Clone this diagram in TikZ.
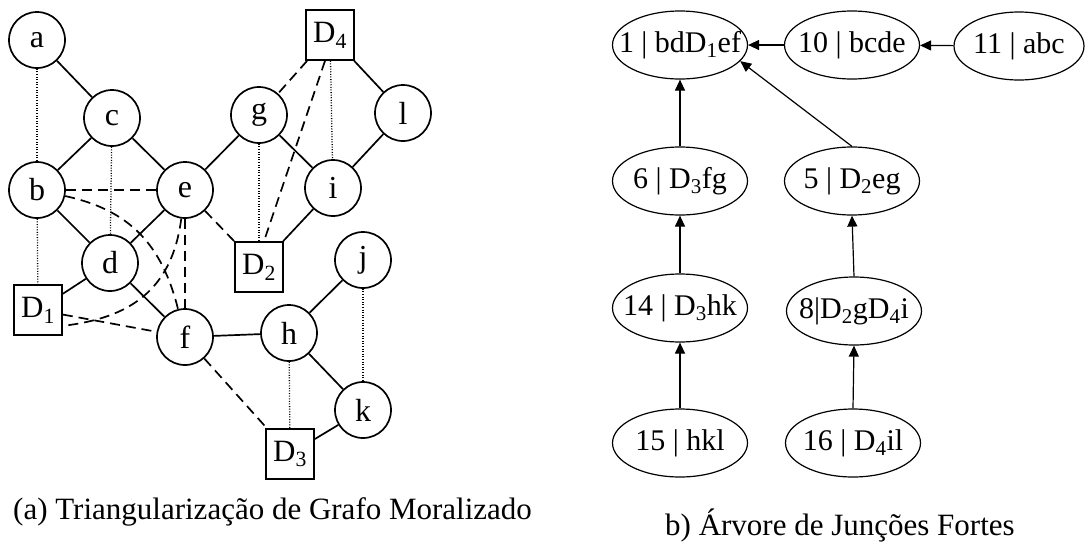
\documentclass[tikz,border=0pt]{standalone}
\usepackage{fontspec}
\setmainfont{Liberation Serif}
\usetikzlibrary{shapes.geometric,arrows.meta}
\newcommand\sbs[1]{\textsubscript{#1}}
\begin{document}
\begin{tikzpicture}[x=1pt,y=-1pt,
 vtx/.style={circle,draw,line width=1.7pt,minimum size=56pt,inner sep=0pt,font=\fontsize{32}{34}\selectfont},
 dec/.style={rectangle,draw,line width=1.7pt,minimum width=48pt,minimum height=50pt,inner sep=0pt,font=\fontsize{31}{34}\selectfont},
 sol/.style={line width=1.7pt},
 dsh/.style={line width=1.7pt,dash pattern=on 10pt off 6pt},
 dtd/.style={line width=1.3pt,dash pattern=on 1pt off 1.6pt},
 clq/.style={ellipse,draw,line width=1.2pt,minimum width=135pt,minimum height=68pt,inner sep=0pt,font=\fontsize{30}{32}\selectfont},
 arr/.style={line width=1.2pt,-{Triangle[length=11pt,width=10pt]}},
 captxt/.style={font=\fontsize{31}{34}\selectfont,inner sep=0pt},
]
\useasboundingbox (0,0) rectangle (1085,542);
% left graph nodes
\node[vtx] (a) at (37,40) {a};
\node[vtx] (c) at (112,118) {c};
\node[vtx] (b) at (37,190) {b};
\node[vtx] (e) at (185,190) {e};
\node[vtx] (g) at (259,115) {g};
\node[dec] (D4) at (330,35) {D\sbs{4}};
\node[vtx] (i) at (333,188) {i};
\node[vtx] (l) at (403,113) {l};
\node[dec] (D2) at (259,267) {D\sbs{2}};
\node[vtx] (j) at (363,260) {j};
\node[vtx] (h) at (289,333) {h};
\node[vtx] (k) at (363,410) {k};
\node[dec] (D3) at (290,454) {D\sbs{3}};
\node[vtx] (d) at (110,263) {d};
\node[dec] (D1) at (38,310) {D\sbs{1}};
\node[vtx] (f) at (185,337) {f};
% solid edges
\draw[sol] (a) -- (c);
\draw[sol] (c) -- (b);
\draw[sol] (c) -- (e);
\draw[sol] (b) -- (d);
\draw[sol] (e) -- (d);
\draw[sol] (e) -- (g);
\draw[sol] (g) -- (i);
\draw[sol] (D4) -- (l);
\draw[sol] (l) -- (i);
\draw[sol] (i) -- (D2);
\draw[sol] (d) -- (D1);
\draw[sol] (d) -- (f);
\draw[sol] (f) -- (h);
\draw[sol] (h) -- (j);
\draw[sol] (h) -- (k);
\draw[sol] (k) -- (D3);
% dotted edges
\draw[dtd] (a) -- (b);
\draw[dtd] (b) -- (D1);
\draw[dtd] (c) -- (d);
\draw[dtd] (g) -- (D2);
\draw[dtd] (D4) -- (i);
\draw[dtd] (h) -- (D3);
\draw[dtd] (j) -- (k);
% dashed edges
\draw[dsh] (b) -- (e);
\draw[dsh] (b) .. controls (130,210) and (162,245) .. (f);
\draw[dsh] (e) .. controls (172,290) and (130,318) .. ([yshift=10pt]D1.south east);
\draw[dsh] (D1) -- (f);
\draw[dsh] (e) -- (f);
\draw[dsh] (e) -- (D2);
\draw[dsh] (D4) -- (g);
\draw[dsh] ([xshift=-5pt]D4.south) -- ([xshift=5pt]D2.north);
\draw[dsh] (f) -- (D3);
% right tree
\node[clq] (n1) at (680,45) {\makebox[0pt]{1 | bdD\sbs{1}ef}};
\node[clq] (n10) at (852,45) {\makebox[0pt]{10 | bcde}};
\node[clq,minimum width=130pt] (n11) at (1019,46) {\makebox[0pt]{11 | abc}};
\node[clq] (n6) at (680,181) {\makebox[0pt]{6 | D\sbs{3}fg}};
\node[clq] (n5) at (852,181) {\makebox[0pt]{5 | D\sbs{2}eg}};
\node[clq] (n14) at (680,308) {\makebox[0pt]{14 | D\sbs{3}hk}};
\node[clq] (n8) at (854,311) {\makebox[0pt]{8|D\sbs{2}gD\sbs{4}i}};
\node[clq] (n15) at (680,443) {\makebox[0pt]{15 | hkl}};
\node[clq] (n16) at (853,443) {\makebox[0pt]{16 | D\sbs{4}il}};
\draw[arr] (n10) -- (n1);
\draw[arr] (n11) -- (n10);
\draw[arr] (n6) -- (n1);
\draw[arr] (n5.north) -- (n1.-15);
\draw[arr] (n14) -- (n6);
\draw[arr] (n15) -- (n14);
\draw[arr] (n8.north) -- (n5.south);
\draw[arr] (n16.north) -- (n8.south);
% captions
\node[captxt,anchor=base west] (capa) at (13,519) {(a) Triangularização de Grafo Moralizado};
\node[captxt,anchor=base west] (capb) at (665,535) {b) Árvore de Junções Fortes};
\end{tikzpicture}
\end{document}
